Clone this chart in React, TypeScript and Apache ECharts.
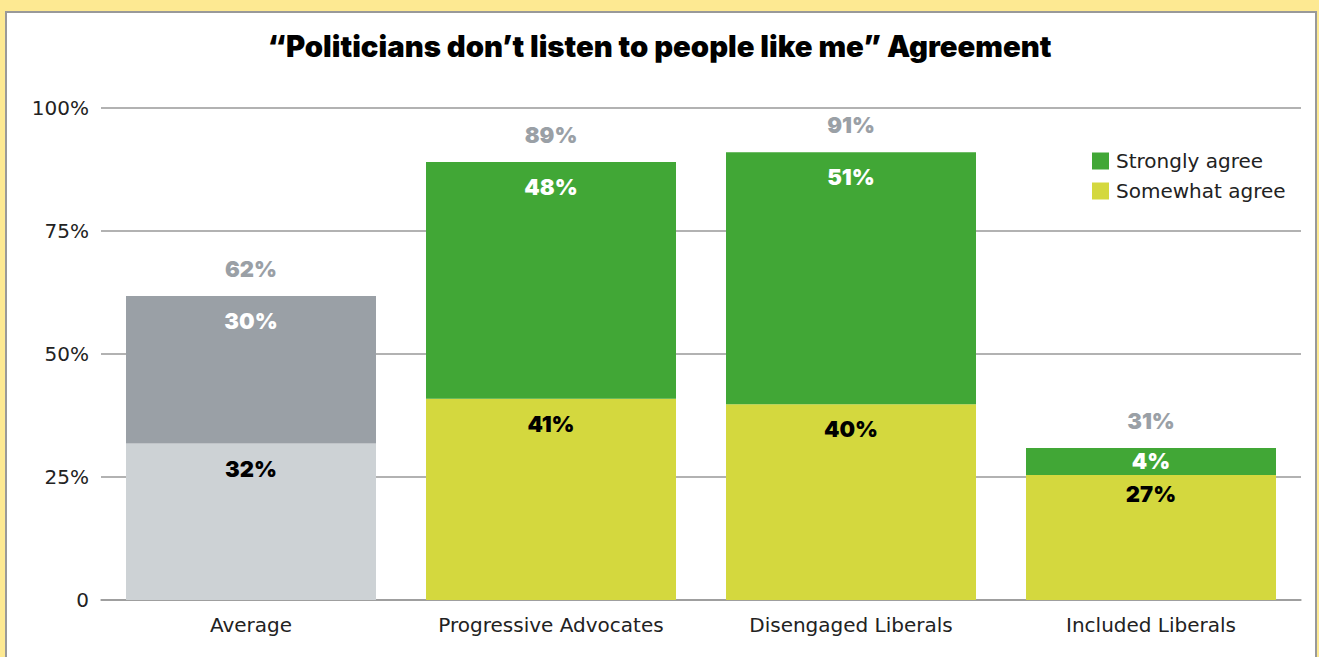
import React, { useEffect, useRef } from "react";
import * as echarts from "echarts";

const categories = ["Average", "Progressive Advocates", "Disengaged Liberals", "Included Liberals"];
const somewhatValues = [31.8, 40.9, 39.8, 25.4];
const stronglyValues = [30, 48.1, 51.2, 5.5];
const somewhatLabels = ["32%", "41%", "40%", "27%"];
const stronglyLabels = ["30%", "48%", "51%", "4%"];
const totalLabels = ["62%", "89%", "91%", "31%"];
const yTicks = [0, 25, 50, 75, 100];

const GREEN = "#41a736";
const LIME = "#d4d83e";
const GRAY_DARK = "#9aa0a6";
const GRAY_LIGHT = "#cdd2d5";
const NUM_FONT = "Inter";
const TEXT_FONT = "DejaVu Sans";

export default function App() {
  const ref = useRef<HTMLDivElement>(null);
  useEffect(() => {
    if (!ref.current) return;
    const chart = echarts.init(ref.current, undefined, { renderer: "svg" });
    const labelBase = {
      show: true,
      position: "insideTop",
      distance: 14,
      fontFamily: NUM_FONT,
      fontWeight: 900,
      fontSize: 22,
    };
    chart.setOption({
      animation: false,
      title: {
        text: "\u201cPoliticians don\u2019t listen to people like me\u201d Agreement",
        left: "center",
        top: 27,
        textStyle: { fontFamily: NUM_FONT, fontWeight: 900, fontSize: 29.3, color: "#000" },
      },
      legend: {
        data: ["Strongly agree", "Somewhat agree"],
        orient: "vertical",
        left: 1092,
        top: 151,
        padding: 0,
        itemWidth: 17,
        itemHeight: 17,
        itemGap: 10,
        icon: "rect",
        textStyle: { fontFamily: TEXT_FONT, fontSize: 20, color: "#222", padding: [0, 0, 0, 2] },
        selectedMode: false,
      },
      grid: { left: 101, right: 18, top: 108, bottom: 57, containLabel: false },
      xAxis: {
        type: "category",
        data: categories,
        axisLine: { show: true, lineStyle: { color: "#999", width: 1.5 } },
        axisTick: { show: false },
        axisLabel: { fontFamily: TEXT_FONT, fontSize: 20, color: "#222", margin: 15 },
      },
      yAxis: {
        type: "value",
        min: yTicks[0],
        max: yTicks[yTicks.length - 1],
        interval: 25,
        axisLine: { show: false },
        axisTick: { show: false },
        axisLabel: {
          fontFamily: TEXT_FONT,
          fontSize: 20,
          color: "#222",
          margin: 12,
          formatter: (v: number) => (v === 0 ? "0" : v + "%"),
        },
        splitLine: { lineStyle: { color: "#999", width: 1.5 } },
      },
      series: [
        {
          name: "Somewhat agree",
          type: "bar",
          stack: "s",
          barWidth: 250,
          itemStyle: { color: LIME },
          label: {
            ...labelBase,
            color: "#000",
            formatter: (p: any) => somewhatLabels[p.dataIndex],
          },
          data: somewhatValues.map((v, i) => ({
            value: v,
            itemStyle: i === 0 ? { color: GRAY_LIGHT } : undefined,
            label: i === 3 ? { distance: 8 } : undefined,
          })),
        },
        {
          name: "Strongly agree",
          type: "bar",
          stack: "s",
          barWidth: 250,
          itemStyle: { color: GREEN },
          label: {
            ...labelBase,
            color: "#fff",
            formatter: (p: any) => stronglyLabels[p.dataIndex],
          },
          data: stronglyValues.map((v, i) => ({
            value: v,
            itemStyle: i === 0 ? { color: GRAY_DARK } : undefined,
            label: i === 3 ? { distance: 2 } : undefined,
          })),
        },
        {
          name: "Total",
          type: "bar",
          stack: "s",
          barWidth: 250,
          itemStyle: { color: "transparent" },
          label: {
            show: true,
            position: "top",
            distance: 16,
            fontFamily: NUM_FONT,
            fontWeight: 900,
            fontSize: 22,
            color: GRAY_DARK,
            formatter: (p: any) => totalLabels[p.dataIndex],
          },
          data: totalLabels.map(() => 0),
        },
      ],
    });
    return () => chart.dispose();
  }, []);

  return (
    <div style={{ position: "fixed", left: 0, top: 0, width: 1319, height: 657, background: "#fde992", overflow: "hidden" }}>
      <div
        style={{
          position: "absolute",
          left: 5,
          top: 11,
          width: 1312,
          height: 700,
          background: "#fff",
          border: "2px solid #999",
          boxSizing: "border-box",
        }}
      />
      <div ref={ref} style={{ position: "absolute", left: 0, top: 0, width: 1319, height: 657 }} />
    </div>
  );
}
